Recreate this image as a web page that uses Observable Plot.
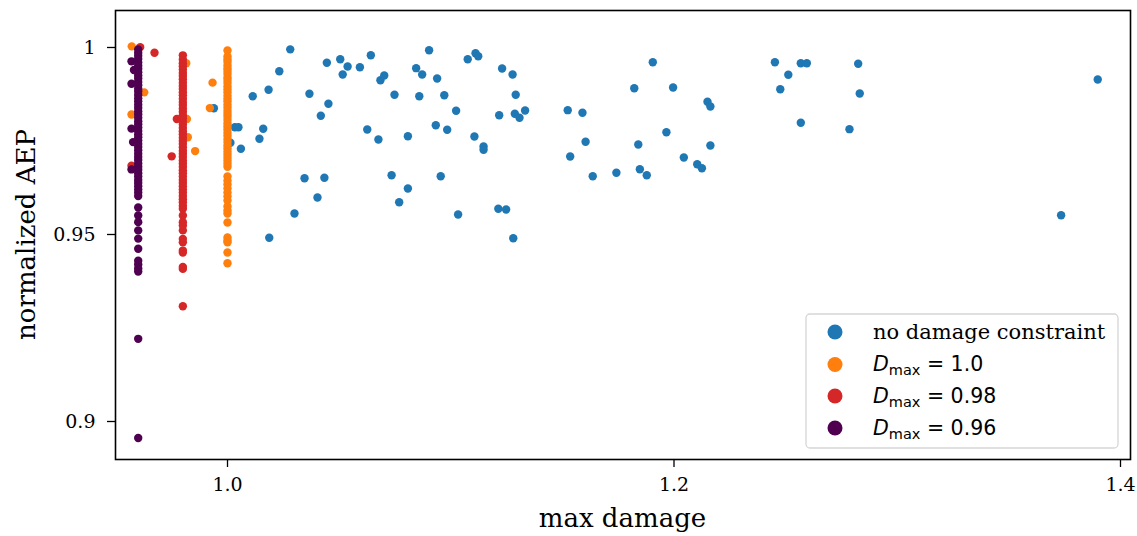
<!DOCTYPE html>
<html>
<head>
<meta charset="utf-8">
<script src="https://cdn.jsdelivr.net/npm/d3@7"></script>
<script src="https://cdn.jsdelivr.net/npm/@observablehq/plot@0.6"></script>
<style>
  html, body { margin: 0; padding: 0; background: #fff; }
  #chart svg { display: block; }
</style>
</head>
<body>
<div id="chart"></div>
<script>
// ---------------- data ----------------
const seriesNames = ["no damage constraint", "Dmax = 1.0", "Dmax = 0.98", "Dmax = 0.96"];
const seriesColors = ["#1f77b4", "#ff7f0e", "#d62728", "#500050"];

// no damage constraint (x = max damage, y = normalized AEP)
const blueX = [1.0281,1.0232,1.0113,1.0184,1.0367,1.0445,1.0505,1.0538,1.0516,1.0593,1.0642,1.0903,1.1076,1.1111,1.1123,1.0685,1.0702,1.0845,1.0872,1.0939,1.0748,1.0859,1.0971,1.1024,1.1230,1.1277,1.1291,1.1217,1.1287,1.1308,1.1333,1.0452,1.0418,1.0033,1.0049,1.0160,1.0143,1.0013,1.0060,1.0626,1.0676,1.0808,1.0933,1.0984,1.1106,1.1147,1.1147,1.0345,1.0434,1.0735,1.0955,1.0403,1.0808,1.0769,1.0300,1.1033,1.1213,1.1248,1.0187,1.1280,0.9939,1.1905,1.1822,1.1996,1.2150,1.2163,1.1524,1.1590,1.1604,1.1535,1.1636,1.1742,1.1840,1.1966,1.1847,1.1878,1.2044,1.2104,1.2125,1.2163,1.2452,1.2568,1.2595,1.2512,1.2476,1.2825,1.2832,1.2568,1.2786,1.3898,1.3734];
const blueY = [0.9995,0.99366,0.98698,0.98869,0.98762,0.99591,0.99687,0.99492,0.99278,0.99473,0.99794,0.99928,0.99687,0.99848,0.99767,0.99126,0.99251,0.99447,0.99278,0.99171,0.98735,0.98698,0.98725,0.98307,0.99439,0.99278,0.98735,0.98190,0.98227,0.98120,0.98316,0.98495,0.98174,0.97869,0.97869,0.97826,0.97559,0.97452,0.97291,0.97807,0.97540,0.97628,0.97922,0.97799,0.97620,0.97353,0.97265,0.96505,0.96516,0.96586,0.96559,0.95989,0.96230,0.95864,0.95561,0.95535,0.95687,0.95668,0.94912,0.94901,0.98377,0.99607,0.98912,0.98930,0.98548,0.98422,0.98324,0.98254,0.97479,0.97086,0.96559,0.96650,0.97406,0.97735,0.96746,0.96586,0.97059,0.96880,0.96773,0.97380,0.99607,0.99580,0.99580,0.99270,0.98885,0.99564,0.98770,0.97987,0.97816,0.99144,0.95516];

// D_max = 1.0 : points on the x = 1.0 column, plus off-column points
const orangeColumnX = 1.0;
const orangeColumnY = [0.9992,0.9976,0.9968,0.9961,0.9952,0.9944,0.9937,0.9929,0.9920,0.9913,0.9905,0.9896,0.9888,0.9880,0.9871,0.9863,0.9856,0.9847,0.9839,0.9830,0.9822,0.9815,0.9806,0.9797,0.9789,0.9781,0.9772,0.9764,0.9755,0.9747,0.9738,0.9730,0.9721,0.9713,0.9705,0.9697,0.9689,0.9681,0.9655,0.9644,0.9634,0.9623,0.9612,0.9602,0.9591,0.9575,0.9564,0.9556,0.9532,0.9492,0.9484,0.9479,0.9452,0.9423];
const orangeOtherX = [0.9571,0.9627,0.9933,0.9921,0.9570,0.9818,0.9822,0.9855,0.9815];
const orangeOtherY = [1.0003,0.9880,0.9906,0.9838,0.9821,0.9809,0.9760,0.9723,0.9958];

// D_max = 0.98
const redColumnX = 0.98;
const redColumnY = [0.9979,0.9968,0.9958,0.9950,0.9941,0.9932,0.9924,0.9915,0.9906,0.9897,0.9889,0.9880,0.9872,0.9863,0.9854,0.9846,0.9837,0.9828,0.9819,0.9811,0.9802,0.9794,0.9785,0.9776,0.9768,0.9759,0.9750,0.9742,0.9733,0.9724,0.9716,0.9707,0.9698,0.9690,0.9681,0.9672,0.9664,0.9655,0.9646,0.9638,0.9629,0.9620,0.9612,0.9603,0.9594,0.9586,0.9577,0.9569,0.9551,0.9533,0.9524,0.9511,0.9488,0.9479,0.9457,0.9452,0.9413,0.9408,0.9308];
const redOtherX = [0.9609,0.9673,0.9750,0.9773,0.9570];
const redOtherY = [1.0001,0.9986,0.9709,0.9809,0.9684];

// D_max = 0.96
const purpleColumnX = 0.96;
const purpleColumnY = [0.9995,0.9986,0.9978,0.9969,0.9960,0.9951,0.9943,0.9934,0.9925,0.9917,0.9908,0.9899,0.9890,0.9882,0.9873,0.9864,0.9856,0.9847,0.9838,0.9829,0.9821,0.9812,0.9803,0.9795,0.9786,0.9777,0.9768,0.9760,0.9751,0.9742,0.9734,0.9725,0.9716,0.9707,0.9699,0.9690,0.9681,0.9673,0.9664,0.9655,0.9646,0.9638,0.9629,0.9620,0.9612,0.9603,0.9572,0.9551,0.9533,0.9511,0.9489,0.9462,0.9430,0.9420,0.9409,0.9401,0.9221,0.8956];
const purpleOtherX = [0.9570,0.9581,0.9570,0.9570,0.9577,0.9570];
const purpleOtherY = [0.9963,0.9940,0.9903,0.9783,0.9747,0.9674];

// axes
const xTicks = [1.0, 1.2, 1.4];
const yTicks = [0.9, 0.95, 1];
const xLabel = "max damage";
const yLabel = "normalized AEP";

// ---------------- build table ----------------
const rows = [];
blueX.forEach((x, i) => rows.push({x, y: blueY[i], s: 0}));
orangeColumnY.forEach(y => rows.push({x: orangeColumnX, y, s: 1}));
orangeOtherX.forEach((x, i) => rows.push({x, y: orangeOtherY[i], s: 1}));
redColumnY.forEach(y => rows.push({x: redColumnX, y, s: 2}));
redOtherX.forEach((x, i) => rows.push({x, y: redOtherY[i], s: 2}));
purpleColumnY.forEach(y => rows.push({x: purpleColumnX, y, s: 3}));
purpleOtherX.forEach((x, i) => rows.push({x, y: purpleOtherY[i], s: 3}));

const W = 1137, H = 536;
const mL = 115, mR = 7, mT = 10, mB = 77;
const serif = "'DejaVu Serif', serif";
const sans = "'DejaVu Sans', sans-serif";

const plot = Plot.plot({
  width: W, height: H,
  marginLeft: mL, marginRight: mR, marginTop: mT, marginBottom: mB,
  style: {background: "#fff", fontFamily: serif, color: "#000"},
  x: {domain: [0.94983, 1.40448]},
  y: {domain: [0.88984, 1.00989]},
  marks: [
    Plot.dot(rows, {x: "x", y: "y", fill: d => seriesColors[d.s], r: 4.2, stroke: "none"}),
    Plot.axisX({ticks: xTicks, tickFormat: d => d.toFixed(1), tickSize: 8, tickPadding: 10, fontSize: 19, label: null, stroke: "#000", strokeWidth: 1.3}),
    Plot.axisY({ticks: yTicks, tickFormat: d => String(d), tickSize: 8, tickPadding: 12, fontSize: 19, label: null, stroke: "#000", strokeWidth: 1.3}),
    Plot.frame({stroke: "#000", strokeWidth: 1.6})
  ]
});
document.getElementById("chart").appendChild(plot);

const svg = d3.select(plot);
// axis labels
svg.append("text").attr("x", mL + (W - mL - mR) / 2).attr("y", 527)
  .attr("text-anchor", "middle").attr("font-family", serif).attr("font-size", 26).attr("fill", "#000").text(xLabel);
svg.append("text").attr("transform", `translate(35,${mT + (H - mT - mB) / 2}) rotate(-90)`)
  .attr("text-anchor", "middle").attr("font-family", serif).attr("font-size", 26).attr("fill", "#000").text(yLabel);

// legend
const lg = svg.append("g").attr("text-anchor", "start");
lg.append("rect").attr("x", 806).attr("y", 314).attr("width", 312).attr("height", 134)
  .attr("rx", 4).attr("fill", "#fff").attr("fill-opacity", 0.8).attr("stroke", "#d6d6d6").attr("stroke-width", 1.3);
const rowY = [332, 364.5, 396, 428];
seriesNames.forEach((name, i) => {
  lg.append("circle").attr("cx", 835).attr("cy", rowY[i]).attr("r", 7.5).attr("fill", seriesColors[i]);
  const t = lg.append("text").attr("x", 873).attr("y", rowY[i] + 6.5).attr("fill", "#000").attr("text-anchor", "start");
  if (i === 0) {
    t.attr("font-family", serif).attr("font-size", 21).text(name);
  } else {
    t.attr("font-family", sans).attr("font-size", 20.5);
    t.append("tspan").attr("font-style", "italic").text("D");
    t.append("tspan").attr("font-size", 14.5).attr("dy", 4).text("max");
    t.append("tspan").attr("dy", -4).text(" = " + name.split("= ")[1]);
  }
});
</script>
</body>
</html>
